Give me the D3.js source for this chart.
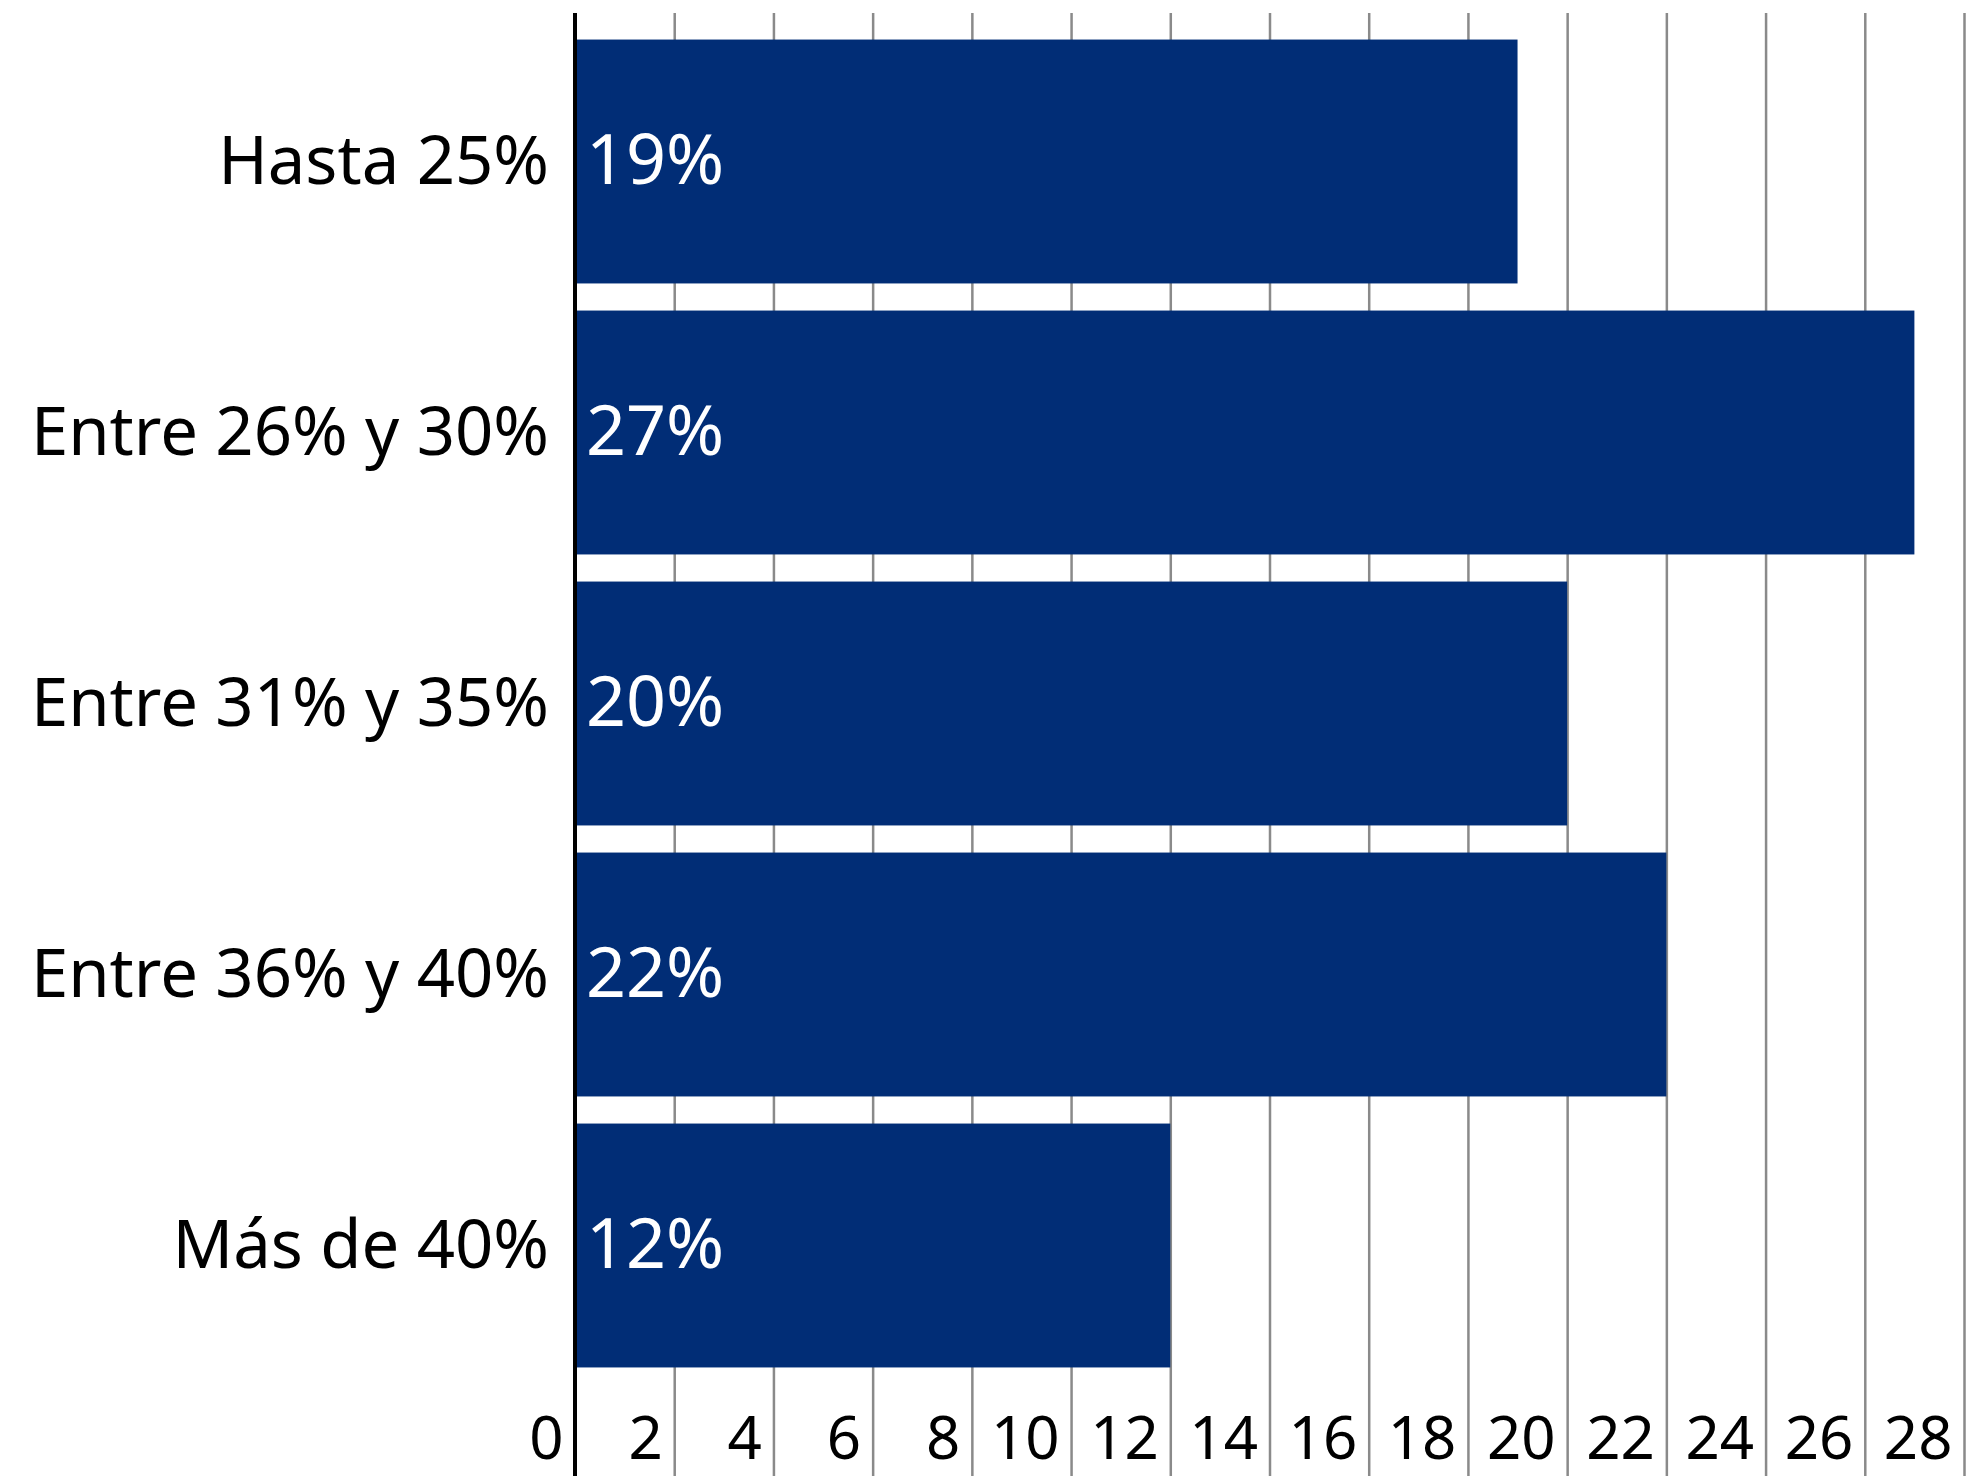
<!DOCTYPE html>
<html>
<head>
<meta charset="utf-8">
<script src="https://cdn.jsdelivr.net/npm/d3@7"></script>
<style>
  html, body { margin: 0; padding: 0; background: #fff; }
  svg { display: block; font-family: "Noto Sans", sans-serif; }
</style>
</head>
<body>
<svg id="chart"></svg>
<script>
const categories = ["Hasta 25%", "Entre 26% y 30%", "Entre 31% y 35%", "Entre 36% y 40%", "Más de 40%"];
const values = [19, 27, 20, 22, 12];
const valueLabels = ["19%", "27%", "20%", "22%", "12%"];
const tickValues = [0, 2, 4, 6, 8, 10, 12, 14, 16, 18, 20, 22, 24, 26, 28];

const width = 1969, height = 1476;
const svg = d3.select("#chart").attr("width", width).attr("height", height);

const x = d3.scaleLinear().domain([0, 28]).range([575, 1964]);
const y = d3.scaleBand().domain(categories).range([26, 1381])
  .paddingInner(0.1).paddingOuter(0.05);

// gridlines + tick labels
const axis = svg.append("g")
  .attr("transform", `translate(0,${height})`)
  .call(d3.axisBottom(x).tickValues(tickValues).tickSize(-(height - 13)).tickFormat(d3.format("d")))
  .attr("font-family", "Noto Sans, sans-serif");
axis.select(".domain").remove();
axis.selectAll(".tick line")
  .attr("stroke", d => d === 0 ? "none" : "#8a8a8a")
  .attr("stroke-width", 2.5);
axis.selectAll(".tick text")
  .attr("x", -12).attr("y", -17).attr("dy", 0)
  .attr("text-anchor", "end")
  .attr("fill", "#000")
  .style("font-size", "60px");

// bars
svg.append("g").selectAll("rect")
  .data(values)
  .join("rect")
  .attr("x", x(0))
  .attr("y", (d, i) => y(categories[i]))
  .attr("width", d => x(d) - x(0))
  .attr("height", y.bandwidth())
  .attr("fill", "#012d76");

// value labels inside bars
svg.append("g").selectAll("text")
  .data(valueLabels)
  .join("text")
  .attr("x", x(0) + 11)
  .attr("y", (d, i) => y(categories[i]) + y.bandwidth() / 2)
  .attr("dy", "0.32em")
  .attr("fill", "#fff")
  .style("font-size", "70px")
  .text(d => d);

// category labels
svg.append("g").selectAll("text")
  .data(categories)
  .join("text")
  .attr("x", x(0) - 26)
  .attr("y", d => y(d) + y.bandwidth() / 2)
  .attr("dy", "0.34em")
  .attr("text-anchor", "end")
  .attr("fill", "#000")
  .style("font-size", "67px")
  .text(d => d);

// zero axis line
svg.append("line")
  .attr("x1", x(0)).attr("x2", x(0))
  .attr("y1", 13).attr("y2", height)
  .attr("stroke", "#000").attr("stroke-width", 4);
</script>
</body>
</html>
